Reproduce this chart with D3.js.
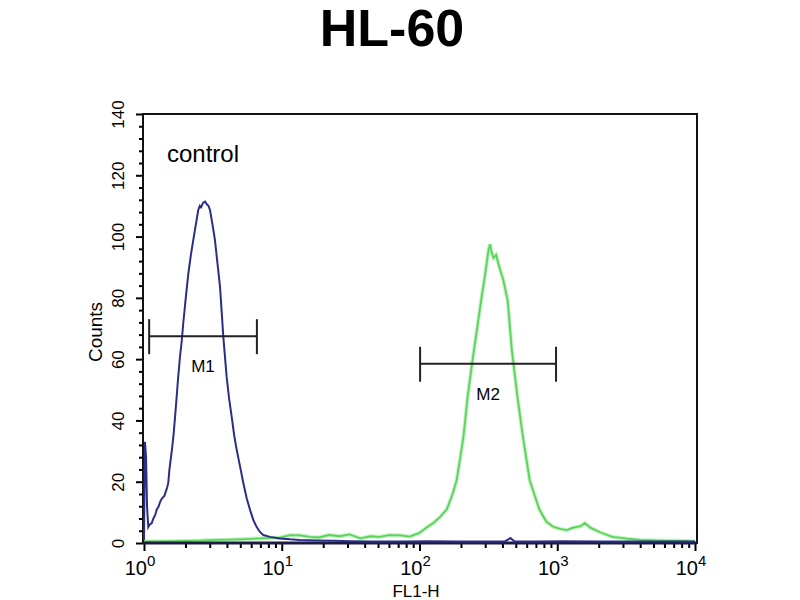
<!DOCTYPE html>
<html>
<head>
<meta charset="utf-8">
<script src="https://cdn.jsdelivr.net/npm/d3@7"></script>
<style>
  body { margin: 0; background: #fff; }
  text { font-family: "Liberation Sans", Arial, sans-serif; }
</style>
</head>
<body>
<svg id="canvas" width="800" height="600"></svg>
<script>
// FL1-H positions and counts
const controlFL1 = [1.00, 1.016, 1.035, 1.052, 1.074, 1.10, 1.138, 1.17, 1.202, 1.24, 1.271, 1.30, 1.327, 1.35, 1.380, 1.41, 1.445, 1.47, 1.500, 1.53, 1.570, 1.60, 1.633, 1.68, 1.726, 1.77, 1.824, 1.88, 1.928, 2.01, 2.099, 2.19, 2.280, 2.38, 2.477, 2.54, 2.594, 2.68, 2.773, 2.864, 2.94, 3.013, 3.14, 3.273, 3.42, 3.565, 3.767, 3.981, 4.15, 4.335, 4.52, 4.710, 4.98, 5.260, 5.57, 5.888, 6.22, 6.577, 6.95, 7.345, 8.222, 9.705, 11.5, 13.5, 18, 24, 31.6, 45, 72.4, 120, 190, 275, 417, 457, 490, 700, 1100, 2042, 4000, 7000, 10000];
const controlCounts = [1, 33, 28, 12, 5.2, 6, 6.5, 8, 9, 11, 11.7, 13, 14, 14.5, 15, 15.5, 17, 18, 19.6, 24, 28, 31, 34.6, 41, 47.7, 54, 60.7, 66, 71.8, 80, 88, 94, 98.9, 104, 108.7, 110, 109.5, 111, 111.4, 110.5, 110, 108.7, 104, 98.9, 91, 83.5, 67.2, 54.2, 47, 41.1, 35, 30.4, 25, 19.6, 14.5, 10.8, 7.5, 5.2, 3.6, 2.6, 2, 1.5, 1.2, 1, 0.8, 0.7, 0.6, 0.5, 0.5, 0.6, 0.5, 0.5, 0.5, 1.6, 0.5, 0.5, 0.6, 0.5, 0.5, 0.5, 0.5];

const stainFL1 = [1.00, 1.6, 2.57, 3.5, 5.01, 7.0, 9.77, 11.5, 13.5, 16, 18.6, 22, 26.3, 31, 37.2, 44, 51.3, 60, 72.4, 85, 100, 112, 126, 141, 158, 174, 186, 198, 209, 224, 245, 262, 282, 296, 309, 318, 326, 333, 345, 360, 380, 405, 437, 468, 513, 562, 631, 692, 741, 832, 933, 1050, 1175, 1288, 1479, 1585, 1738, 2042, 2512, 3200, 3981, 5500, 7762, 10000];
const stainCounts = [0.5, 0.6, 0.8, 1.0, 1.2, 1.5, 1.8, 2.6, 2.5, 2.0, 1.8, 2.6, 2.2, 2.8, 1.5, 2.2, 2.0, 2.6, 2.5, 2.1, 3.3, 5.0, 6.5, 8.5, 11, 16, 20.5, 28, 35, 48, 61, 70, 80, 86, 92, 96, 97.5, 95, 93, 94, 90, 86, 79, 63, 48, 35, 20.5, 15, 11, 7, 5.3, 4.6, 4.2, 4.9, 5.5, 6.5, 5.0, 3.5, 2.0, 1.4, 1.0, 0.8, 0.7, 0.5];

// y ticks and x decades
const yMajor = [0, 20, 40, 60, 80, 100, 120, 140];
const yMinor = [4, 8, 12, 16, 24, 28, 32, 36, 44, 48, 52, 56, 64, 68, 72, 76, 84, 88, 92, 96, 104, 108, 112, 116, 124, 128, 132, 136];
const xDecades = [1, 10, 100, 1000, 10000];
const xExponents = ['0', '1', '2', '3', '4'];
const xMinor = [2, 3, 4, 5, 6, 7, 8, 9, 20, 30, 40, 50, 60, 70, 80, 90, 200, 300, 400, 500, 600, 700, 800, 900, 2000, 3000, 4000, 5000, 6000, 7000, 8000, 9000];

// markers
const markerNames = ['M1', 'M2'];
const markerFrom = [1.09, 101];
const markerTo = [6.6, 980];
const markerCount = [67.5, 58.5];

const plotLeft = 143, plotRight = 697, plotTop = 114, plotBottom = 543;

let canvas = d3.select('#canvas')

let x = d3.scaleLog().domain([1, 10000]).range([plotLeft + 1, plotRight - 2])
let y = d3.scaleLinear().domain([0, 140]).range([plotBottom, plotTop])

canvas.append('text')
      .attr('x', 392)
      .attr('y', 46)
      .attr('text-anchor', 'middle')
      .attr('font-size', 52)
      .attr('font-weight', 'bold')
      .text('HL-60')

// left axis
let yAxisMinor = d3.axisLeft(y).tickValues(yMinor).tickSize(4).tickFormat('')
canvas.append('g')
      .attr('transform', 'translate(' + plotLeft + ',0)')
      .call(yAxisMinor)
      .call(g => g.select('.domain').remove())
      .selectAll('line').attr('stroke-width', 2)

let yAxis = d3.axisLeft(y).tickValues(yMajor).tickSize(7).tickSizeOuter(0)
let yG = canvas.append('g')
      .attr('transform', 'translate(' + plotLeft + ',0)')
      .call(yAxis)
yG.select('.domain').remove()
yG.selectAll('line').attr('stroke-width', 2)
yG.selectAll('.tick text')
  .attr('transform', 'rotate(-90)')
  .attr('x', 0)
  .attr('y', -19)
  .attr('dy', 0)
  .attr('text-anchor', 'middle')
  .attr('font-size', 17)
  .attr('font-family', '"Liberation Sans", Arial, sans-serif')

// bottom axis
let xAxisMinor = d3.axisBottom(x).tickValues(xMinor).tickSize(5).tickFormat('')
canvas.append('g')
      .attr('transform', 'translate(0,' + plotBottom + ')')
      .call(xAxisMinor)
      .call(g => g.select('.domain').remove())
      .selectAll('line').attr('stroke-width', 2)

let xAxis = d3.axisBottom(x).tickValues(xDecades).tickSize(8).tickFormat('')
let xG = canvas.append('g')
      .attr('transform', 'translate(0,' + plotBottom + ')')
      .call(xAxis)
xG.select('.domain').remove()
xG.selectAll('line').attr('stroke-width', 2)

let decadeLabel = canvas.selectAll('.decade')
      .data(xDecades)
      .enter()
      .append('text')
      .attr('class', 'decade')
      .attr('x', (d) => x(d) - 4)
      .attr('y', 575)
      .attr('text-anchor', 'middle')
      .attr('font-size', 20)
decadeLabel.append('tspan').text('10')
decadeLabel.append('tspan')
      .attr('dy', -9)
      .attr('font-size', 15)
      .text((d, i) => xExponents[i])

canvas.append('text')
      .attr('x', 416)
      .attr('y', 597)
      .attr('text-anchor', 'middle')
      .attr('font-size', 17)
      .text('FL1-H')

canvas.append('text')
      .attr('transform', 'translate(102,332) rotate(-90)')
      .attr('text-anchor', 'middle')
      .attr('font-size', 19)
      .text('Counts')

canvas.append('text')
      .attr('x', 167)
      .attr('y', 162)
      .attr('font-size', 24)
      .text('control')

// histograms
let line = d3.line()
      .x((d) => x(d[0]))
      .y((d) => y(d[1]))

let stainData = d3.zip(stainFL1, stainCounts)
let controlData = d3.zip(controlFL1, controlCounts)

canvas.append('path')
      .datum(stainData)
      .attr('d', line)
      .attr('fill', 'none')
      .attr('stroke', '#c4f2c4')
      .attr('stroke-width', 4)

canvas.append('path')
      .datum(stainData)
      .attr('d', line)
      .attr('fill', 'none')
      .attr('stroke', '#5bd35b')
      .attr('stroke-width', 1.8)

// frame
canvas.append('rect')
      .attr('x', plotLeft)
      .attr('y', plotTop)
      .attr('width', plotRight - plotLeft)
      .attr('height', plotBottom - plotTop)
      .attr('fill', 'none')
      .attr('stroke', '#111')
      .attr('stroke-width', 2)

canvas.append('line')
      .attr('x1', plotLeft).attr('x2', plotRight)
      .attr('y1', plotBottom).attr('y2', plotBottom)
      .attr('stroke', '#1c1c40')
      .attr('stroke-width', 3)

canvas.append('path')
      .datum(controlData)
      .attr('d', line)
      .attr('fill', 'none')
      .attr('stroke', '#2b2e88')
      .attr('stroke-width', 2)

// gates
markerNames.forEach((name, i) => {
    let g = canvas.append('g').attr('stroke', '#222').attr('stroke-width', 2)
    let yy = y(markerCount[i])
    g.append('line')
     .attr('x1', x(markerFrom[i])).attr('x2', x(markerTo[i]))
     .attr('y1', yy).attr('y2', yy)
    g.append('line')
     .attr('x1', x(markerFrom[i])).attr('x2', x(markerFrom[i]))
     .attr('y1', yy - 17).attr('y2', yy + 18)
    g.append('line')
     .attr('x1', x(markerTo[i])).attr('x2', x(markerTo[i]))
     .attr('y1', yy - 17).attr('y2', yy + 18)
    canvas.append('text')
          .attr('x', (x(markerFrom[i]) + x(markerTo[i])) / 2)
          .attr('y', yy + 36)
          .attr('text-anchor', 'middle')
          .attr('font-size', 17)
          .text(name)
})
</script>
</body>
</html>
